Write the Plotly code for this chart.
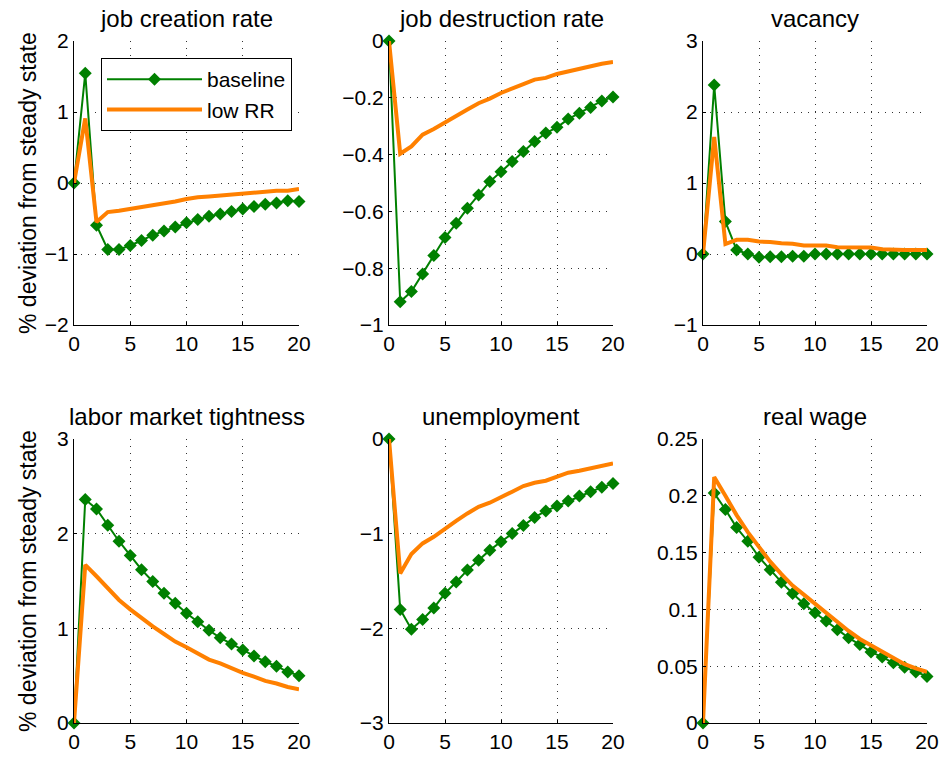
import plotly.graph_objects as go

periods = list(range(21))

titles = ["job creation rate", "job destruction rate", "vacancy",
          "labor market tightness", "unemployment", "real wage"]

jc_base = [0, 1.545, -0.595, -0.937, -0.937, -0.88, -0.81, -0.735, -0.675, -0.62, -0.56,
           -0.515, -0.47, -0.435, -0.40, -0.365, -0.33, -0.30, -0.28, -0.25, -0.26]
jc_low = [0, 0.91, -0.55, -0.41, -0.39, -0.365, -0.34, -0.32, -0.29, -0.26, -0.225,
          -0.20, -0.19, -0.175, -0.17, -0.145, -0.14, -0.12, -0.11, -0.11, -0.085]

jd_base = [0, -0.918, -0.882, -0.82, -0.755, -0.692, -0.642, -0.589, -0.542, -0.495, -0.46,
           -0.424, -0.389, -0.354, -0.324, -0.304, -0.275, -0.254, -0.234, -0.211, -0.197]
jd_low = [0, -0.397, -0.371, -0.33, -0.31, -0.286, -0.262, -0.241, -0.219, -0.203, -0.183,
          -0.166, -0.152, -0.136, -0.13, -0.116, -0.107, -0.095, -0.087, -0.08, -0.074]

vac_base = [0, 2.38, 0.457, 0.057, 0.0, -0.047, -0.04, -0.04, -0.03, -0.03, 0.0,
            0.0, 0.0, 0.0, 0.0, 0.0, 0.0, 0.0, 0.0, 0.0, 0.0]
vac_low = [0, 1.65, 0.14, 0.2, 0.2, 0.175, 0.17, 0.15, 0.145, 0.12, 0.118,
           0.118, 0.095, 0.09, 0.09, 0.09, 0.066, 0.057, 0.057, 0.057, 0.057]

lmt_base = [0, 2.36, 2.26, 2.09, 1.92, 1.77, 1.62, 1.495, 1.37, 1.265, 1.16,
            1.07, 0.98, 0.90, 0.835, 0.77, 0.707, 0.647, 0.60, 0.54, 0.50]
lmt_low = [0, 1.67, 1.55, 1.42, 1.30, 1.20, 1.105, 1.02, 0.94, 0.86, 0.80,
           0.735, 0.67, 0.63, 0.576, 0.53, 0.49, 0.445, 0.417, 0.38, 0.357]

unemp_base = [0, -1.80, -2.01, -1.907, -1.785, -1.63, -1.51, -1.385, -1.28, -1.174, -1.085,
              -0.998, -0.913, -0.828, -0.76, -0.708, -0.656, -0.603, -0.557, -0.511, -0.469]
unemp_low = [0, -1.42, -1.216, -1.103, -1.033, -0.945, -0.864, -0.786, -0.716, -0.673, -0.61,
             -0.557, -0.497, -0.462, -0.441, -0.398, -0.356, -0.335, -0.31, -0.275, -0.257]

wage_base = [0, 0.2024, 0.188, 0.172, 0.16, 0.146, 0.135, 0.124, 0.114, 0.105, 0.097,
             0.0897, 0.082, 0.075, 0.069, 0.0626, 0.058, 0.053, 0.049, 0.045, 0.041]
wage_low = [0, 0.2165, 0.20, 0.183, 0.168, 0.155, 0.142, 0.131, 0.121, 0.113, 0.105,
            0.096, 0.088, 0.081, 0.074, 0.0685, 0.0626, 0.057, 0.0518, 0.048, 0.045]

base_series = [jc_base, jd_base, vac_base, lmt_base, unemp_base, wage_base]
low_series = [jc_low, jd_low, vac_low, lmt_low, unemp_low, wage_low]

y_ticks = [
    [-2, -1, 0, 1, 2],
    [-1, -0.8, -0.6, -0.4, -0.2, 0],
    [-1, 0, 1, 2, 3],
    [0, 1, 2, 3],
    [-3, -2, -1, 0],
    [0, 0.05, 0.1, 0.15, 0.2, 0.25],
]
x_ticks = [0, 5, 10, 15, 20]
ylabel = "% deviation from steady state"

W, H = 941, 757
cols_px = [(74, 299), (389, 613), (703, 927)]
rows_px = [(41, 325), (439, 723)]

GREEN = "#008000"
ORANGE = "#FF8000"
FONT = "Liberation Sans, Arial, sans-serif"

fig = go.Figure()
layout = {}
annotations = []

for i in range(6):
    r, c = divmod(i, 3)
    n = i + 1
    xa = "x" if n == 1 else f"x{n}"
    ya = "y" if n == 1 else f"y{n}"
    fig.add_trace(go.Scatter(
        x=periods, y=base_series[i], xaxis=xa, yaxis=ya, mode="lines+markers",
        line=dict(color=GREEN, width=2),
        marker=dict(symbol="diamond", size=10, color=GREEN),
        name="baseline", showlegend=(i == 0), cliponaxis=False))
    fig.add_trace(go.Scatter(
        x=periods, y=low_series[i], xaxis=xa, yaxis=ya, mode="lines",
        line=dict(color=ORANGE, width=4),
        name="low RR", showlegend=(i == 0), cliponaxis=False))

    x0, x1 = cols_px[c]
    y0, y1 = rows_px[r]
    xd = [x0 / W, x1 / W]
    yd = [1 - y1 / H, 1 - y0 / H]
    common = dict(showline=True, linecolor="black", linewidth=1, mirror=False,
                  showgrid=True, gridcolor="#333333", gridwidth=1, griddash="1px,6px",
                  zeroline=False, ticks="inside", ticklen=3, tickcolor="black",
                  automargin=False,
                  tickfont=dict(family=FONT, size=21, color="black"))
    ticks = y_ticks[i]
    layout["xaxis" if n == 1 else f"xaxis{n}"] = dict(
        domain=xd, range=[0, 20], tickvals=x_ticks, anchor=ya, **common)
    layout["yaxis" if n == 1 else f"yaxis{n}"] = dict(
        domain=yd, range=[ticks[0], ticks[-1]], tickvals=ticks, anchor=xa, **common)
    annotations.append(dict(
        text=titles[i], x=(x0 + x1) / 2 / W, y=1 - (y0 - 22) / H,
        xref="paper", yref="paper", xanchor="center", yanchor="middle",
        showarrow=False, font=dict(family=FONT, size=24, color="black")))

for r in range(2):
    y0, y1 = rows_px[r]
    annotations.append(dict(
        text=ylabel, x=28 / W, y=1 - (y0 + y1) / 2 / H, textangle=-90,
        xref="paper", yref="paper", xanchor="center", yanchor="middle",
        showarrow=False, font=dict(family=FONT, size=23, color="black")))

fig.update_layout(
    width=W, height=H,
    margin=dict(l=0, r=0, t=0, b=0, autoexpand=False),
    paper_bgcolor="white", plot_bgcolor="white",
    annotations=annotations,
    legend=dict(x=101 / W, y=1 - 58 / H, xanchor="left", yanchor="top",
                bgcolor="white", bordercolor="black", borderwidth=1,
                font=dict(family=FONT, size=21, color="black"),
                itemwidth=95, tracegroupgap=6),
    **layout,
)

fig.write_html(
    "out.html",
    config={"displayModeBar": False},
    post_script="document.body.style.margin='0';document.body.style.overflow='hidden';",
)
